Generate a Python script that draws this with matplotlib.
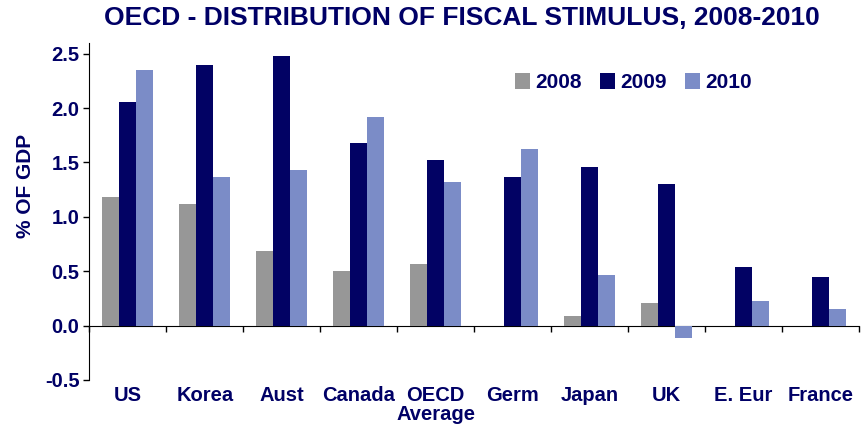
import matplotlib.pyplot as plt
import numpy as np

countries = ['US', 'Korea', 'Aust', 'Canada', 'OECD\nAverage', 'Germ', 'Japan', 'UK', 'E. Eur', 'France']
y2008 = [1.18, 1.12, 0.69, 0.50, 0.57, 0.0, 0.086, 0.21, 0.0, 0.0]
y2009 = [2.06, 2.40, 2.48, 1.68, 1.52, 1.37, 1.46, 1.30, 0.54, 0.45]
y2010 = [2.35, 1.37, 1.43, 1.92, 1.32, 1.62, 0.47, -0.11, 0.23, 0.15]
years = ['2008', '2009', '2010']
colors = ['#979797', '#020264', '#7b8cc7']
navy = '#000066'

plt.rcParams['font.family'] = ['Liberation Sans', 'DejaVu Sans']

fig = plt.figure(figsize=(8.63, 4.30), dpi=100)
ax = fig.add_axes([0.1034, 0.1163, 0.892, 0.784])

x = np.arange(len(countries))
w = 0.22
for i, (vals, lab, c) in enumerate(zip([y2008, y2009, y2010], years, colors)):
    ax.bar(x + (i - 1) * w, vals, width=w, color=c, label=lab)

ax.set_xlim(-0.5, len(countries) - 0.5)
ax.set_ylim(-0.5, 2.6)
ax.set_yticks([-0.5, 0.0, 0.5, 1.0, 1.5, 2.0, 2.5])
ax.set_yticklabels(['-0.5', '0.0', '0.5', '1.0', '1.5', '2.0', '2.5'])
ax.tick_params(axis='y', direction='out', length=4, width=1, pad=3,
               labelsize=14.5, labelcolor=navy)
for t in ax.get_yticklabels():
    t.set_fontweight('bold')

ax.set_xticks(x)
ax.set_xticklabels(countries, fontsize=14.5, fontweight='bold', color=navy, linespacing=1.05)
ax.tick_params(axis='x', length=0, pad=4)

for s in ['top', 'right', 'bottom']:
    ax.spines[s].set_visible(False)
ax.spines['left'].set_color('black')

sec = ax.secondary_xaxis(0, transform=ax.transData)
sec.set_xticks(np.arange(len(countries) + 1) - 0.5)
sec.set_xticklabels([])
sec.tick_params(axis='x', direction='out', length=4, width=1)
sec.spines['bottom'].set_color('black')

ax.set_ylabel('% OF GDP', fontsize=15, fontweight='bold', color=navy)
ax.yaxis.set_label_coords(-0.07, 0.575)
fig.text(0.535, 0.958, 'OECD - DISTRIBUTION OF FISCAL STIMULUS, 2008-2010',
         ha='center', va='center', fontsize=19, fontweight='bold', color=navy)

leg = ax.legend(loc='upper left', bbox_to_anchor=(0.553, 0.91), ncol=3, frameon=False,
                borderpad=0, borderaxespad=0,
                handlelength=0.72, handleheight=0.8, handletextpad=0.25, columnspacing=0.87,
                prop={'weight': 'bold', 'size': 15})
for t in leg.get_texts():
    t.set_color(navy)

fig.savefig('out.png', dpi=100)
